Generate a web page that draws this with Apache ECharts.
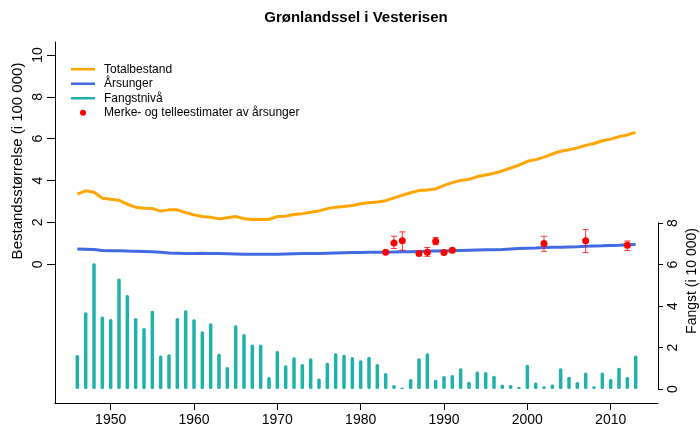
<!DOCTYPE html>
<html>
<head>
<meta charset="utf-8">
<script src="https://cdn.jsdelivr.net/npm/echarts@6/dist/echarts.min.js"></script>
<style>
  html, body { margin: 0; padding: 0; background: #fff; }
  #chart { width: 700px; height: 428px; }
</style>
</head>
<body>
<div id="chart"></div>
<script>
var years = [1946, 1947, 1948, 1949, 1950, 1951, 1952, 1953, 1954, 1955,
  1956, 1957, 1958, 1959, 1960, 1961, 1962, 1963, 1964, 1965,
  1966, 1967, 1968, 1969, 1970, 1971, 1972, 1973, 1974, 1975,
  1976, 1977, 1978, 1979, 1980, 1981, 1982, 1983, 1984, 1985,
  1986, 1987, 1988, 1989, 1990, 1991, 1992, 1993, 1994, 1995,
  1996, 1997, 1998, 1999, 2000, 2001, 2002, 2003, 2004, 2005,
  2006, 2007, 2008, 2009, 2010, 2011, 2012, 2013];

// Totalbestand (i 100 000)
var totalbestand = [3.35, 3.51, 3.44, 3.16, 3.11, 3.06, 2.87, 2.73, 2.68, 2.66,
  2.54, 2.60, 2.60, 2.47, 2.36, 2.28, 2.25, 2.17, 2.22, 2.28,
  2.18, 2.14, 2.14, 2.15, 2.28, 2.30, 2.38, 2.42, 2.49, 2.55,
  2.66, 2.73, 2.76, 2.81, 2.89, 2.94, 2.98, 3.04, 3.17, 3.30,
  3.42, 3.52, 3.55, 3.60, 3.77, 3.90, 4.00, 4.06, 4.19, 4.27,
  4.35, 4.46, 4.60, 4.74, 4.92, 5.00, 5.12, 5.27, 5.40, 5.47,
  5.56, 5.68, 5.77, 5.90, 5.98, 6.10, 6.18, 6.30];

// Årsunger (i 100 000)
var arsunger = [0.73, 0.72, 0.71, 0.66, 0.65, 0.65, 0.63, 0.62, 0.61, 0.60,
  0.57, 0.54, 0.53, 0.52, 0.52, 0.53, 0.52, 0.51, 0.50, 0.49,
  0.48, 0.48, 0.48, 0.48, 0.48, 0.49, 0.50, 0.51, 0.51, 0.52,
  0.53, 0.54, 0.55, 0.56, 0.56, 0.57, 0.57, 0.58, 0.59, 0.60,
  0.60, 0.61, 0.62, 0.63, 0.64, 0.65, 0.66, 0.67, 0.68, 0.69,
  0.70, 0.71, 0.73, 0.75, 0.77, 0.78, 0.80, 0.81, 0.82, 0.83,
  0.84, 0.86, 0.87, 0.88, 0.90, 0.91, 0.93, 0.95];

// Fangstnivå (i 10 000)
var fangst = [1.64, 3.70, 6.06, 3.49, 3.37, 5.33, 4.53, 3.42, 2.94, 3.77,
  1.61, 1.67, 3.42, 3.79, 3.36, 2.78, 3.17, 1.70, 1.06, 3.07,
  2.65, 2.14, 2.15, 0.58, 1.83, 1.14, 1.53, 1.20, 1.48, 0.51,
  1.27, 1.72, 1.65, 1.54, 1.38, 1.56, 1.20, 0.77, 0.19, 0.06,
  0.48, 1.48, 1.72, 0.45, 0.63, 0.67, 1.00, 0.35, 0.84, 0.82,
  0.64, 0.22, 0.19, 0.10, 1.17, 0.31, 0.13, 0.22, 1.00, 0.59,
  0.34, 0.79, 0.13, 0.80, 0.48, 1.03, 0.58, 1.62];

// Merke- og telleestimater av årsunger
var estYears = [1983, 1984, 1985, 1987, 1988, 1989, 1990, 1991, 2002, 2007, 2012];
var estValues = [0.57, 1.02, 1.12, 0.51, 0.57, 1.10, 0.56, 0.67, 0.99, 1.12, 0.91];
var estLow = [0.57, 0.75, 0.67, 0.51, 0.38, 0.94, 0.56, 0.67, 0.62, 0.56, 0.66];
var estHigh = [0.57, 1.34, 1.55, 0.51, 0.80, 1.28, 0.56, 0.67, 1.34, 1.66, 1.11];

var xTicks = [1950, 1960, 1970, 1980, 1990, 2000, 2010];
var leftTicks = [0, 2, 4, 6, 8, 10];

var lineIcon = 'path://M0,0h24v2.5h-24z';

var chart = echarts.init(document.getElementById('chart'));

function pairs(xs, ys) {
  return xs.map(function (x, i) { return [x, ys[i]]; });
}

var option = {
  animation: false,
  textStyle: { fontFamily: 'Liberation Sans, Arial, sans-serif', color: '#000' },
  title: {
    text: 'Grønlandssel i Vesterisen',
    left: 356,
    top: 10,
    padding: 0,
    textAlign: 'center',
    textStyle: { fontSize: 15, fontWeight: 'bold', color: '#000' }
  },
  legend: {
    orient: 'vertical',
    left: 71,
    top: 62,
    padding: 0,
    itemGap: 0,
    itemWidth: 24,
    itemHeight: 6,
    selectedMode: false,
    textStyle: { fontSize: 12, color: '#000', lineHeight: 14.5, padding: [0, 0, 0, 4] },
    data: [
      { name: 'Totalbestand', icon: lineIcon },
      { name: 'Årsunger', icon: lineIcon },
      { name: 'Fangstnivå', icon: lineIcon },
      { name: 'Merke- og telleestimater av årsunger', icon: 'circle' }
    ]
  },
  grid: [
    { left: 55, right: 42, top: 42, bottom: 25 },
    { left: 55, right: 42, top: 223, bottom: 39 }
  ],
  xAxis: [
    {
      type: 'value', gridIndex: 0, min: 1943.32, max: 2015.68,
      axisLine: { show: true, onZero: false, lineStyle: { color: '#000', width: 1 } },
      axisTick: { show: true, customValues: xTicks, length: 7, lineStyle: { color: '#000' } },
      axisLabel: {
        customValues: xTicks, fontSize: 14, color: '#000', margin: 10,
        formatter: function (v) { return String(v); }
      },
      splitLine: { show: false }
    },
    {
      type: 'value', gridIndex: 1, min: 1943.32, max: 2015.68, show: false
    }
  ],
  yAxis: [
    {
      type: 'value', gridIndex: 0, min: -6.627, max: 10.62,
      axisLine: { show: true, onZero: false, lineStyle: { color: '#000', width: 1 } },
      axisTick: { show: true, customValues: leftTicks, length: 8, lineStyle: { color: '#000' } },
      axisLabel: { customValues: leftTicks, rotate: 90, fontSize: 14, color: '#000', margin: 10 },
      splitLine: { show: false }
    },
    {
      type: 'value', gridIndex: 1, position: 'right', min: 0, max: 8, interval: 2,
      axisLine: { show: true, onZero: false, lineStyle: { color: '#000', width: 1 } },
      axisTick: { show: true, length: 5, lineStyle: { color: '#000' } },
      axisLabel: { rotate: 90, fontSize: 14, color: '#000', margin: 8 },
      splitLine: { show: false }
    }
  ],
  graphic: [
    {
      type: 'text', x: 18, y: 161, rotation: Math.PI / 2,
      style: { text: 'Bestandsstørrelse (i 100 000)', fontSize: 15, fill: '#000',
        fontFamily: 'Liberation Sans, Arial, sans-serif', align: 'center', verticalAlign: 'middle' }
    },
    {
      type: 'text', x: 692, y: 281, rotation: Math.PI / 2,
      style: { text: 'Fangst (i 10 000)', fontSize: 14, fill: '#000',
        fontFamily: 'Liberation Sans, Arial, sans-serif', align: 'center', verticalAlign: 'middle' }
    }
  ],
  series: [
    {
      name: 'Fangstnivå',
      type: 'bar',
      xAxisIndex: 1,
      yAxisIndex: 1,
      barWidth: 3.5,
      color: '#20B2AA',
      itemStyle: { color: '#20B2AA', borderRadius: 1.5 },
      data: pairs(years, fangst)
    },
    {
      name: 'Totalbestand',
      type: 'line',
      xAxisIndex: 0,
      yAxisIndex: 0,
      symbol: 'none',
      color: '#FFA500',
      lineStyle: { color: '#FFA500', width: 3 },
      data: pairs(years, totalbestand)
    },
    {
      name: 'Årsunger',
      type: 'line',
      xAxisIndex: 0,
      yAxisIndex: 0,
      symbol: 'none',
      color: '#4169E1',
      lineStyle: { color: '#4169E1', width: 3 },
      data: pairs(years, arsunger)
    },
    {
      name: 'Merke- og telleestimater av årsunger',
      type: 'custom',
      xAxisIndex: 0,
      yAxisIndex: 0,
      color: '#FF0000',
      itemStyle: { color: '#FF0000' },
      encode: { x: 0, y: 1 },
      z: 5,
      data: estYears.map(function (y, i) { return [y, estValues[i], estLow[i], estHigh[i]]; }),
      renderItem: function (params, api) {
        var p = api.coord([api.value(0), api.value(1)]);
        var lo = api.coord([api.value(0), api.value(2)]);
        var hi = api.coord([api.value(0), api.value(3)]);
        var cap = 3;
        var bar = { stroke: 'rgba(255,0,0,0.8)', lineWidth: 1 };
        return {
          type: 'group',
          children: [
            { type: 'line', shape: { x1: p[0], y1: lo[1], x2: p[0], y2: hi[1] }, style: bar },
            { type: 'line', shape: { x1: p[0] - cap, y1: lo[1], x2: p[0] + cap, y2: lo[1] }, style: bar },
            { type: 'line', shape: { x1: p[0] - cap, y1: hi[1], x2: p[0] + cap, y2: hi[1] }, style: bar },
            { type: 'circle', shape: { cx: p[0], cy: p[1], r: 3.5 }, style: { fill: '#FF0000' } }
          ]
        };
      }
    }
  ]
};

chart.setOption(option);
window.addEventListener('resize', function () {
  chart.resize();
});
</script>
</body>
</html>
